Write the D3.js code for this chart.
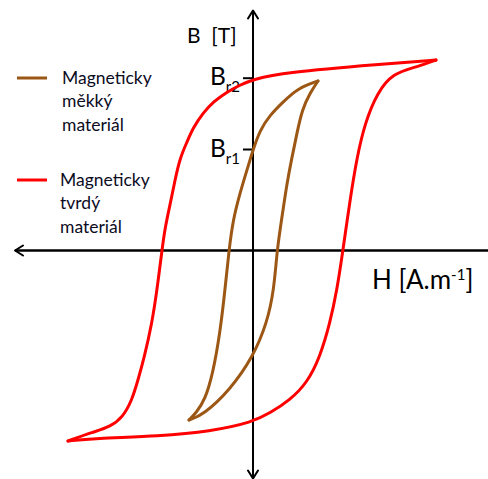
<!DOCTYPE html>
<html><head><meta charset="utf-8">
<script src="https://cdn.jsdelivr.net/npm/d3@7"></script>
<style>
html,body{margin:0;padding:0;background:#fff;}
svg{display:block;font-family:Lato,"Open Sans",sans-serif;}
</style></head>
<body>
<svg id="chart" width="488" height="479"></svg>
<script>
// Hard magnetic material loop (H, B) — upper branch (tip to tip) and lower branch
const hardUpper = [[183,190.5],[130,186.5],[30,178],[0,171],[-13,165.5],[-26,158.5],[-40,148.5],[-50,137.5],[-60,122.5],[-66,108.5],[-73,92.5],[-78,70.5],[-83,45.5],[-88,22.5],[-91,0.5],[-96,-39.5],[-101,-72.5],[-109,-108],[-115,-129.5],[-121,-149.5],[-130,-166.5],[-143,-176.5],[-160,-181.5],[-185,-190.5]];
const hardLower = [[-185,-190.5],[-160,-188],[-93,-185.5],[-43,-181],[0,-171.5],[17,-162.5],[37,-149.5],[54,-132.5],[67,-106.5],[77,-72.5],[84,-39.5],[90,0.5],[97,50.5],[104,93.5],[112,127.5],[124,157.5],[140,177.5],[164,183.5],[183,190.5]];
// Soft magnetic material loop
const softUpper = [[65,169.5],[45,162.5],[30,148.5],[17,135.5],[7,120.5],[0,100.5],[-6,80.5],[-13,57.5],[-20,30.5],[-24,0.5],[-28,-39.5],[-33,-82.5],[-40,-122.5],[-48,-149.5],[-57,-162.5],[-64,-169.5]];
const softLower = [[-64,-169.5],[-50,-164.5],[-23,-139.5],[0,-106.5],[14,-72.5],[21,-39.5],[24,0.5],[29,33.5],[34,67.5],[39,93.5],[44,117.5],[49,140.5],[57,157.5],[65,169.5]];
// Remanence tick values
const remanence = [{name:"r1", value:101.5},{name:"r2", value:172.8}];
const legendItems = [
  {lines:["Magneticky","měkký","materiál"], color:"#9c5714"},
  {lines:["Magneticky","tvrdý","materiál"], color:"#ff0000"}
];

const svg = d3.select("#chart");
const x = d3.scaleLinear().domain([-238, 235]).range([15, 488]);
const y = d3.scaleLinear().domain([-228, 240]).range([478.5, 10.5]);
const x0 = x(0), y0 = y(0);

// axes lines
svg.append("line").attr("x1", 488).attr("x2", x(-238)).attr("y1", y0).attr("y2", y0)
  .attr("stroke", "#000").attr("stroke-width", 2.6);
svg.append("line").attr("x1", x0).attr("x2", x0).attr("y1", y(-228)).attr("y2", y(240))
  .attr("stroke", "#000").attr("stroke-width", 2);
const arrow = (pts) => svg.append("path").attr("d", d3.line()(pts))
  .attr("fill", "none").attr("stroke", "#000").attr("stroke-width", 2)
  .attr("stroke-linecap", "round").attr("stroke-linejoin", "round");
const yt = y(240), yb = y(-228), xl = x(-238);
arrow([[x0 - 5, yt + 8], [x0, yt], [x0 + 5, yt + 8]]);
arrow([[x0 - 5, yb - 8], [x0, yb], [x0 + 5, yb - 8]]);
arrow([[xl + 8, y0 - 5], [xl, y0], [xl + 8, y0 + 5]]);

// remanence ticks via d3 axis
const ax = svg.append("g").attr("transform", `translate(${x0},0)`)
  .call(d3.axisLeft(y).tickValues(remanence.map(d => d.value)).tickSize(10).tickFormat(""));
ax.select(".domain").remove();
ax.selectAll(".tick line").attr("stroke", "#000").attr("stroke-width", 2);

remanence.forEach(r => {
  const t = svg.append("text").attr("x", 210).attr("y", y(r.value) + 7.5)
    .attr("font-size", 24.5).attr("fill", "#000");
  t.append("tspan").text("B");
  t.append("tspan").attr("font-size", 15).attr("dy", 7).text(r.name);
});

// curves
const line = d3.line().x(d => x(d[0])).y(d => y(d[1])).curve(d3.curveBasis);
[[hardUpper, "#ff0000"], [hardLower, "#ff0000"], [softUpper, "#9c5714"], [softLower, "#9c5714"]].forEach(([data, c]) => {
  svg.append("path").attr("d", line(data)).attr("fill", "none").attr("stroke", c)
    .attr("stroke-width", 3).attr("stroke-linejoin", "round").attr("stroke-linecap", "round");
});

// axis labels
svg.append("text").attr("x", 187).attr("y", 43).attr("font-size", 21).attr("fill", "#000")
  .attr("xml:space", "preserve").text("B  [T]");
const hl = svg.append("text").attr("x", 372).attr("y", 289).attr("font-size", 26).attr("fill", "#000");
hl.append("tspan").text("H [A.m");
hl.append("tspan").attr("font-size", 15).attr("dy", -9).text("-1");
hl.append("tspan").attr("dy", 9).text("]");

// legend
const legTop = [84, 186];
const legX = [62, 60];
legendItems.forEach((it, i) => {
  svg.append("line").attr("x1", 17).attr("x2", 47).attr("y1", legTop[i] - 6).attr("y2", legTop[i] - 6)
    .attr("stroke", it.color).attr("stroke-width", 3);
  it.lines.forEach((s, j) => {
    svg.append("text").attr("x", legX[i]).attr("y", legTop[i] + j * 23.3)
      .attr("font-size", 17.5).attr("fill", "#0c0c1e").text(s);
  });
});
</script>
</body></html>
